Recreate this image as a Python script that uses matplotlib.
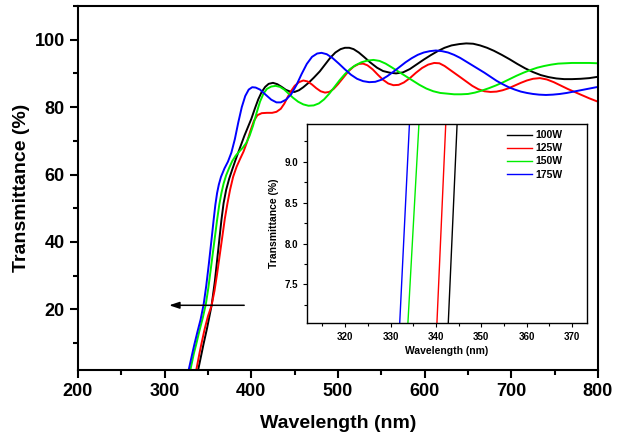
import matplotlib
matplotlib.use("Agg")
import matplotlib.pyplot as plt
from matplotlib.ticker import MultipleLocator

plt.rcParams["font.family"] = ["Liberation Sans", "DejaVu Sans"]
plt.rcParams["font.weight"] = "bold"

# transmittance spectra (wavelength nm, transmittance %)
wl_100 = [337, 342.7, 344.7, 349, 354.2, 358, 360.5, 363, 365.5, 368, 371, 374.5, 378, 382,
          387, 392, 396, 400, 404, 408, 412, 416, 420, 425, 430, 435, 440, 445, 450, 455,
          460, 466, 472, 479, 485, 491, 497, 503, 508, 513, 518, 524, 530, 537, 545, 552,
          560, 567, 575, 583, 591, 599, 607, 615, 623, 631, 640, 648, 656, 664, 672, 680,
          689, 698, 707, 716, 725, 734, 743, 752, 761, 770, 780, 790, 800]
t_100 = [0, 7.0, 9.5, 14.5, 21.2, 28.5, 34.5, 40.5, 46.5, 51.5, 55.5, 58.8, 61.5, 64.5,
         68, 71.5, 74, 76.5, 79.5, 82.3, 84.5, 86, 86.9, 87.2, 86.8, 86, 85.1, 84.6, 84.5, 85,
         85.9, 87.2, 88.7, 90.6, 92.6, 94.6, 96.2, 97.2, 97.6, 97.6, 97.2, 96.2, 94.9, 93.3, 91.7, 90.7,
         90.2, 90.0, 90.3, 91.3, 92.7, 94.1, 95.4, 96.6, 97.6, 98.3, 98.7, 98.9, 98.8, 98.3, 97.6, 96.7,
         95.5, 94.2, 92.8, 91.5, 90.4, 89.5, 88.9, 88.5, 88.3, 88.3, 88.4, 88.6, 89.0]

wl_125 = [335, 340.2, 342.2, 346, 350, 354, 357.5, 360.5, 363.5, 366.5, 369.5, 372.5, 375.5,
          379, 383, 387, 391, 395, 399, 403, 407, 412, 418, 424, 429, 434, 438, 442, 446,
          450, 455, 460, 465, 470, 475, 480, 485, 490, 495, 500, 506, 512, 518, 524, 529,
          534, 540, 546, 552, 558, 564, 570, 576, 583, 590, 597, 604, 611, 617, 623, 629,
          635, 641, 648, 655, 662, 669, 676, 683, 690, 697, 704, 711, 718, 725, 733, 741,
          749, 757, 765, 773, 781, 790, 800]
t_125 = [0, 7.0, 9.5, 14, 18, 21, 25.5, 30.5, 36, 41.5, 47, 51.5, 55.5,
         59.3, 62.3, 64.6, 66.8, 69.6, 73, 75.9, 77.6, 78.2, 78.3, 78.3, 78.6, 79.5, 81, 83, 84.8,
         86.3, 87.4, 87.9, 87.6, 86.7, 85.6, 84.7, 84.3, 84.5, 85.4, 86.8, 88.7, 90.6, 92, 92.8, 92.9,
         92.4, 91.2, 89.6, 88.1, 87.0, 86.5, 86.6, 87.3, 88.6, 90.2, 91.6, 92.6, 93.1, 93.0, 92.2, 91.1,
         90.0, 88.9, 87.6, 86.3, 85.3, 84.7, 84.5, 84.6, 85.0, 85.6, 86.4, 87.2, 87.9, 88.4, 88.6, 88.2,
         87.4, 86.4, 85.4, 84.5, 83.6, 82.6, 81.6]

wl_150 = [328, 333.8, 336.3, 340, 344, 347.5, 350.5, 353, 355.5, 358, 360.5, 363, 365.5, 368,
          371, 374.5, 378, 382, 386, 390, 394, 398, 402, 406, 410, 414, 418, 423, 428, 433,
          438, 443, 448, 454, 460, 466, 472, 478, 484, 490, 496, 502, 508, 514, 520, 527,
          534, 541, 548, 555, 562, 570, 578, 586, 594, 602, 610, 618, 626, 634, 642, 650,
          658, 666, 674, 682, 690, 698, 706, 714, 722, 730, 738, 746, 754, 762, 770, 780,
          790, 800]
t_150 = [0, 7.0, 9.5, 13.5, 17.5, 21.5, 26.5, 31.5, 36.5, 41.5, 46.5, 51, 54.5, 57.3,
         59.8, 62, 64, 65.6, 66.8, 67.9, 69.3, 71.5, 74.5, 78.2, 81.6, 84, 85.4, 86.1, 86.3, 86,
         85.2, 84, 82.8, 81.6, 80.8, 80.4, 80.5, 81.1, 82.3, 84, 86, 88, 89.8, 91.3, 92.4, 93.3,
         93.8, 94, 93.7, 92.9, 91.8, 90.5, 89.2, 87.9, 86.6, 85.5, 84.7, 84.2, 84, 83.8, 83.8, 83.9,
         84.3, 84.9, 85.6, 86.4, 87.3, 88.3, 89.3, 90.2, 91, 91.7, 92.2, 92.6, 92.9, 93.0, 93.1, 93.1,
         93.1, 93.0]

wl_175 = [326, 332.0, 334.2, 338, 341.5, 345, 348, 351, 354, 356.5, 358.5, 360.5, 362.5, 365,
          369, 373, 377, 381, 385, 389, 393, 397, 401, 405, 410, 416, 423, 429, 434, 440,
          446, 452, 458, 464, 470, 476, 481, 487, 494, 501, 508, 515, 522, 529, 536, 543,
          550, 557, 564, 571, 578, 585, 592, 599, 606, 613, 620, 627, 634, 641, 648, 655,
          662, 669, 676, 683, 690, 697, 704, 711, 718, 725, 732, 740, 748, 756, 764, 772,
          780, 790, 800]
t_175 = [0, 7.0, 9.5, 13.5, 17, 21.5, 27, 33.5, 40.5, 46.5, 51, 54.5, 57, 59.3,
         61.8, 63.8, 66.5, 70.5, 75.5, 80, 83.3, 85.2, 85.9, 85.8, 85.2, 83.8, 82.2, 81.4, 81.4, 82.2,
         83.8, 86.5, 89.8, 92.8, 94.9, 95.9, 96.1, 95.7, 94.5, 92.9, 91.2, 89.6, 88.4, 87.7, 87.4, 87.5,
         88.1, 89.2, 90.5, 91.9, 93.3, 94.5, 95.5, 96.2, 96.6, 96.8, 96.6, 96.2, 95.5, 94.6, 93.5, 92.4,
         91.3, 90.2, 89, 87.8, 86.8, 85.9, 85.2, 84.6, 84.2, 83.9, 83.7, 83.6, 83.7, 83.9, 84.2, 84.6,
         85, 85.5, 86]

labels = ["100W", "125W", "150W", "175W"]
colors = ["black", "#ff0000", "#00ee00", "#0000ff"]
series = [(wl_100, t_100), (wl_125, t_125), (wl_150, t_150), (wl_175, t_175)]

fig = plt.figure(figsize=(6.18, 4.37), dpi=100)
ax = fig.add_axes([0.1262, 0.1533, 0.8414, 0.833])

for (wl, t), c, lab in zip(series, colors, labels):
    ax.plot(wl, t, color=c, linewidth=1.4, label=lab)

ax.set_xlim(200, 800)
ax.set_ylim(2, 110)
ax.xaxis.set_major_locator(MultipleLocator(100))
ax.xaxis.set_minor_locator(MultipleLocator(50))
ax.yaxis.set_major_locator(MultipleLocator(20))
ax.yaxis.set_minor_locator(MultipleLocator(10))
ax.set_yticks([20, 40, 60, 80, 100])
ax.tick_params(which="both", direction="out", width=1.5, labelsize=13)
ax.tick_params(which="major", length=6)
ax.tick_params(which="minor", length=3.5)
for s in ax.spines.values():
    s.set_linewidth(1.5)
for lbl in ax.get_xticklabels() + ax.get_yticklabels():
    lbl.set_fontweight("bold")
ax.set_xlabel("Wavelength (nm)", fontsize=14, fontweight="bold", labelpad=11)
ax.set_ylabel("Transmittance (%)", fontsize=14, fontweight="bold", labelpad=3)

ax.annotate("", xy=(302, 21.2), xytext=(395, 21.2),
            arrowprops=dict(arrowstyle="-|>,head_length=0.6,head_width=0.2",
                            color="black", lw=1.1))

# inset: zoom on absorption edge
ins = fig.add_axes([0.4968, 0.2609, 0.4531, 0.4554])
for (wl, t), c, lab in zip(series, colors, labels):
    ins.plot(wl, t, color=c, linewidth=1.0, label=lab)
ins.set_xlim(311.6, 373.3)
ins.set_ylim(7.03, 9.46)
ins.xaxis.set_major_locator(MultipleLocator(10))
ins.xaxis.set_minor_locator(MultipleLocator(5))
ins.yaxis.set_major_locator(MultipleLocator(0.5))
ins.yaxis.set_minor_locator(MultipleLocator(0.25))
ins.tick_params(which="both", direction="out", width=0.8, labelsize=7)
ins.tick_params(which="major", length=3)
ins.tick_params(which="minor", length=2)
for s in ins.spines.values():
    s.set_linewidth(1.0)
for lbl in ins.get_xticklabels() + ins.get_yticklabels():
    lbl.set_fontweight("bold")
ins.set_xlabel("Wavelength (nm)", fontsize=7.5, fontweight="bold", labelpad=3)
ins.set_ylabel("Transmittance (%)", fontsize=7.5, fontweight="bold", labelpad=4)
ins.legend(loc="upper right", frameon=False, handlelength=2.4,
           handletextpad=0.3, labelspacing=0.3, borderaxespad=0.2,
           prop={"weight": "bold", "size": 7.5}, bbox_to_anchor=(0.935, 1.0))

fig.savefig("out.png", dpi=100)
